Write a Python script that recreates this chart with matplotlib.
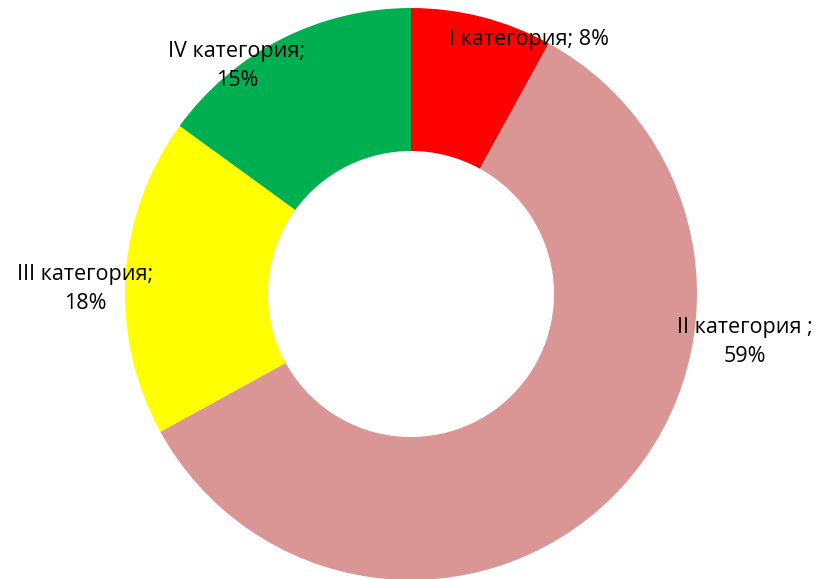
import matplotlib
matplotlib.use("Agg")
import matplotlib.pyplot as plt

categories = ["I категория", "II категория ", "III категория", "IV категория"]
shares = [8, 59, 18, 15]
colors = ["#FF0000", "#D99694", "#FFFF00", "#00B050"]

W, H = 823, 579
cx, cy = 411, 294
r_out = 286
r_in = 143

fig = plt.figure(figsize=(W / 100, H / 100), dpi=100)
ax = fig.add_axes([0, 0, 1, 1])

ax.pie(shares, colors=colors, startangle=90, counterclock=False,
       radius=r_out, wedgeprops=dict(width=r_out - r_in, linewidth=0))

# pie() resets the limits, so set them afterwards
ax.set_xlim(-cx, W - cx)
ax.set_ylim(-(H - cy), cy)
ax.set_aspect("equal")
ax.axis("off")

# label positions in pixel offsets from the centre
label_pos = [(118, 255), (334, -48), (-326, 5), (-174, 228)]
for i, (name, val, (lx, ly)) in enumerate(zip(categories, shares, label_pos)):
    if i == 0:
        txt = f"{name}; {val}%"
    else:
        txt = f"{name};\n{val}%"
    ax.text(lx, ly, txt, ha="center", va="center", fontsize=15.5,
            family="Open Sans", linespacing=1.55, color="black")

fig.savefig("out.png", dpi=100)
